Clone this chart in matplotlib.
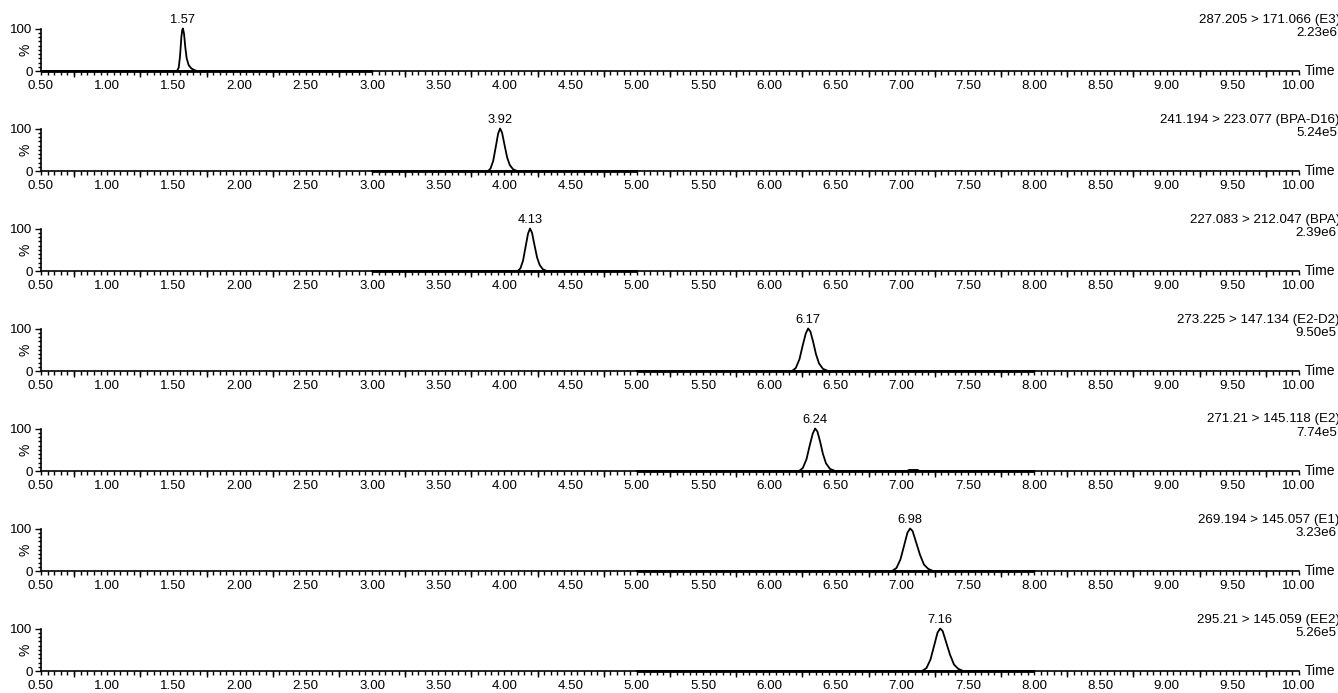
import matplotlib
matplotlib.use("Agg")
import matplotlib.pyplot as plt
from matplotlib.ticker import MultipleLocator, FixedLocator, FuncFormatter

plt.rcParams['font.family'] = ['Liberation Sans', 'DejaVu Sans']

# ---------------- data ----------------
transitions = ["287.205 > 171.066 (E3)", "241.194 > 223.077 (BPA-D16)",
               "227.083 > 212.047 (BPA)", "273.225 > 147.134 (E2-D2)",
               "271.21 > 145.118 (E2)", "269.194 > 145.057 (E1)",
               "295.21 > 145.059 (EE2)"]
intensities = ["2.23e6", "5.24e5", "2.39e6", "9.50e5", "7.74e5", "3.23e6", "5.26e5"]
peak_labels = ["1.57", "3.92", "4.13", "6.17", "6.24", "6.98", "7.16"]

# acquisition windows (start, end) in minutes
win_start = [0.50, 3.00, 3.00, 5.00, 5.00, 5.00, 5.00]
win_end = [3.00, 5.00, 5.00, 8.00, 8.00, 8.00, 8.00]

# peak apex positions (min) as they appear on the time axis
apex_t = [1.572, 3.967, 4.193, 6.293, 6.346, 7.063, 7.290]

# trace points (time, % intensity)
e3_t = [1.527, 1.540, 1.550, 1.560, 1.567, 1.572, 1.580, 1.590, 1.600, 1.615, 1.635, 1.660, 1.678]
e3_i = [0, 8, 35, 80, 97, 100, 88, 55, 30, 14, 6, 2, 0]

bpad16_t = [3.876, 3.895, 3.915, 3.935, 3.952, 3.967, 3.982, 4.000, 4.020, 4.040, 4.065, 4.095]
bpad16_i = [0, 6, 24, 58, 88, 100, 90, 62, 32, 14, 4, 0]

bpa_t = [4.100, 4.120, 4.140, 4.160, 4.178, 4.193, 4.208, 4.226, 4.246, 4.266, 4.290, 4.320]
bpa_i = [0, 6, 24, 58, 88, 100, 90, 62, 32, 14, 4, 0]

e2d2_t = [6.172, 6.200, 6.228, 6.252, 6.275, 6.293, 6.310, 6.330, 6.352, 6.375, 6.405, 6.444]
e2d2_i = [0, 7, 28, 60, 88, 100, 93, 70, 40, 18, 5, 0]

e2_t = [6.225, 6.253, 6.281, 6.305, 6.328, 6.346, 6.363, 6.383, 6.405, 6.428, 6.458, 6.497,
        7.040, 7.055, 7.120, 7.135]
e2_i = [0, 7, 28, 60, 88, 100, 93, 70, 40, 18, 5, 0,
        0, 2.5, 2.5, 0]

e1_t = [6.927, 6.960, 6.990, 7.018, 7.043, 7.063, 7.082, 7.108, 7.138, 7.168, 7.200, 7.237]
e1_i = [0, 7, 27, 60, 90, 100, 94, 68, 38, 15, 5, 0]

ee2_t = [7.154, 7.187, 7.217, 7.245, 7.270, 7.290, 7.309, 7.335, 7.365, 7.395, 7.427, 7.464]
ee2_i = [0, 7, 27, 60, 90, 100, 94, 68, 38, 15, 5, 0]

traces_t = [e3_t, bpad16_t, bpa_t, e2d2_t, e2_t, e1_t, ee2_t]
traces_i = [e3_i, bpad16_i, bpa_i, e2d2_i, e2_i, e1_i, ee2_i]

x_min, x_max = 0.50, 10.00

# ---------------- layout ----------------
W, H = 1338, 693
fig = plt.figure(figsize=(W / 100, H / 100), dpi=100)

left_px, right_px = 41, 1299
base0_px, step_px, height_px = 71, 100, 42.5

for k in range(7):
    base = base0_px + k * step_px
    ax = fig.add_axes([left_px / W, 1 - base / H, (right_px - left_px) / W, height_px / H])

    t = [win_start[k]] + traces_t[k] + [win_end[k]]
    y = [0] + traces_i[k] + [0]
    ax.plot(t, y, color='black', lw=1.3, clip_on=False, zorder=3)
    # thicker baseline where data were acquired
    ax.plot([win_start[k], win_end[k]], [0, 0], color='black', lw=2.0,
            clip_on=False, zorder=2, solid_capstyle='butt')

    ax.set_xlim(x_min, x_max)
    ax.set_ylim(0, 100)
    for s in ['top', 'right']:
        ax.spines[s].set_visible(False)
    ax.spines['left'].set_linewidth(1.2)
    ax.spines['bottom'].set_linewidth(1.2)

    ax.xaxis.set_major_locator(MultipleLocator(0.5))
    ax.xaxis.set_minor_locator(MultipleLocator(0.05))
    ax.xaxis.set_major_formatter(FuncFormatter(lambda v, p: f"{v:.2f}"))
    ax.tick_params(axis='x', which='major', length=3, width=1.0, pad=3.5,
                   labelsize=9.6, direction='out')
    ax.tick_params(axis='x', which='minor', length=2.6, width=1.0, direction='out')

    ax.set_yticks([0, 100])
    ax.set_yticklabels(["0", "100"])
    ax.yaxis.set_minor_locator(MultipleLocator(10))
    ax.tick_params(axis='y', which='major', length=4.5, width=1.0, pad=1.5,
                   labelsize=9.6)
    ax.tick_params(axis='y', which='minor', length=2.2, width=1.0)

    # longer ticks at the odd quarter-minutes
    sec = ax.secondary_xaxis('bottom')
    sec.xaxis.set_major_locator(FixedLocator([0.75 + 0.5 * j for j in range(19)]))
    sec.tick_params(length=4.5, width=1.0, labelbottom=False, direction='out')
    sec.spines['bottom'].set_visible(False)

    ax.set_ylabel('%', fontsize=10)
    ax.yaxis.set_label_coords((33 - left_px) / (right_px - left_px), 0.5)

    # peak label
    ax.annotate(peak_labels[k], xy=(apex_t[k], 100), xytext=(0, 1.5),
                textcoords='offset points', ha='center', va='bottom',
                fontsize=9.3, annotation_clip=False)

    # transition text and intensity
    top = base - height_px
    fig.text(1340 / W, 1 - (top - 9) / H, transitions[k], ha='right', va='center',
             fontsize=9.6)
    fig.text(1337 / W, 1 - (top + 5) / H, intensities[k], ha='right', va='center',
             fontsize=9.6)
    fig.text(1305 / W, 1 - base / H, 'Time', ha='left', va='center',
             fontsize=10)

fig.savefig('out.png', dpi=100, facecolor='white')
